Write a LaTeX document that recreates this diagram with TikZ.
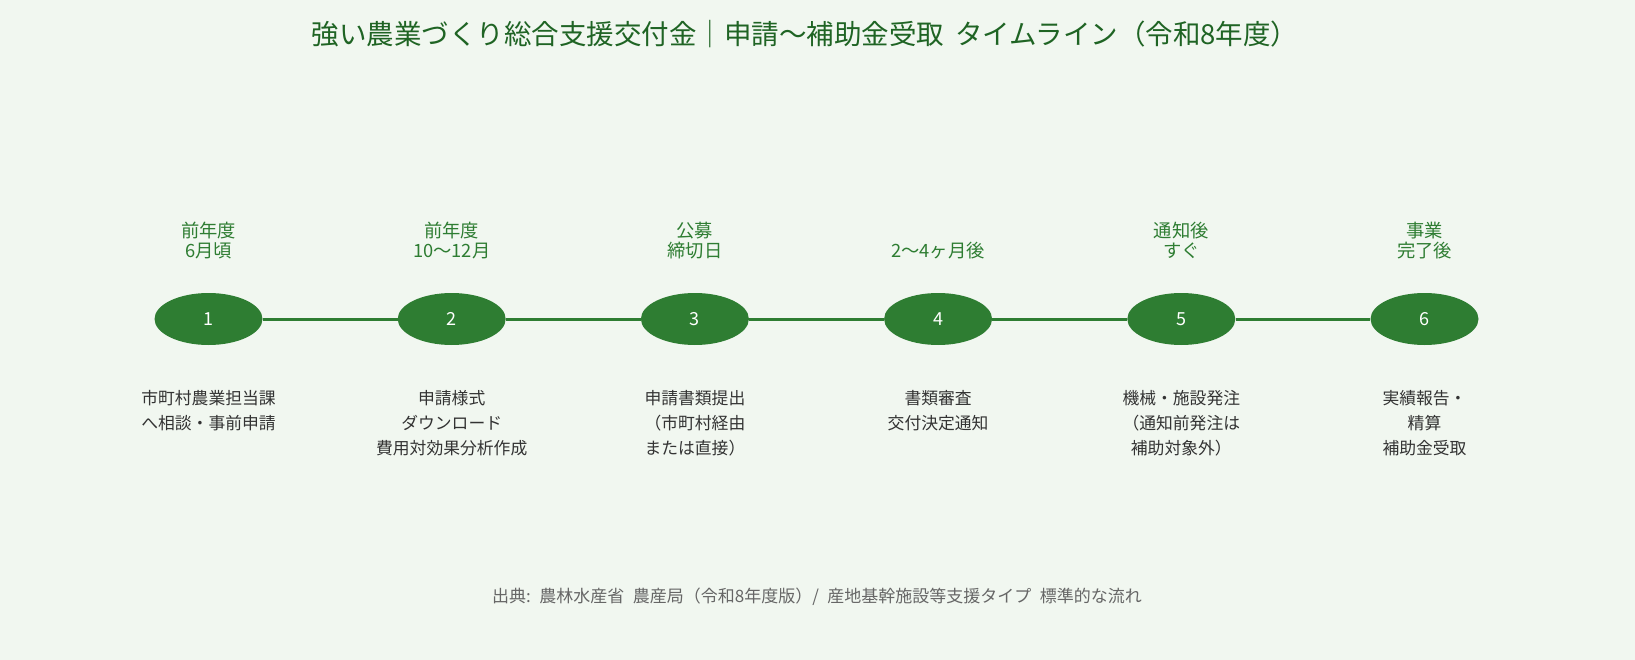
\documentclass[tikz,border=0pt]{standalone}
\usepackage{fontspec}
\setmainfont{Noto Sans CJK JP}
\usetikzlibrary{shapes.geometric}
\definecolor{bgcol}{HTML}{F1F7F0}
\definecolor{stagegreen}{HTML}{2E7D32}
\definecolor{titlegreen}{HTML}{1F6424}
\definecolor{textgray}{HTML}{333333}
\definecolor{notegray}{HTML}{666666}

\begin{document}
\begin{tikzpicture}[x=1pt, y=-1pt,
  stage/.style={ellipse, fill=stagegreen, minimum width=108pt, minimum height=52pt, inner sep=0pt, text=white, font=\fontsize{18}{20}\selectfont},
  when/.style={anchor=south, align=center, inner sep=0pt, text=stagegreen, font=\fontsize{18.3}{20}\selectfont},
  what/.style={anchor=north, align=center, inner sep=0pt, text=textgray, font=\fontsize{16.8}{25}\selectfont},
  link/.style={stagegreen, line width=3pt}]
  \fill[bgcol] (0,0) rectangle (1635,660);
  \useasboundingbox (0,0) rectangle (1635,660);

  \node[text=titlegreen, font=\fontsize{27.5}{30}\selectfont] (title) at (805,34) {強い農業づくり総合支援交付金｜申請〜補助金受取\hspace{0.4em}タイムライン（令和8年度）};

  \node[stage] (s1) at (208.5,319) {1};
  \node[stage] (s2) at (451.7,319) {2};
  \node[stage] (s3) at (694.9,319) {3};
  \node[stage] (s4) at (938.1,319) {4};
  \node[stage] (s5) at (1181.3,319) {5};
  \node[stage] (s6) at (1424.5,319) {6};
  \draw[link] (s1) -- (s2);
  \draw[link] (s2) -- (s3);
  \draw[link] (s3) -- (s4);
  \draw[link] (s4) -- (s5);
  \draw[link] (s5) -- (s6);

  \node[when] (w1) at (208.5,259) {前年度\\6月頃};
  \node[when] (w2) at (451.7,259) {前年度\\10〜12月};
  \node[when] (w3) at (694.9,259) {公募\\締切日};
  \node[when] (w4) at (938.1,259) {2〜4ヶ月後};
  \node[when] (w5) at (1181.3,259) {通知後\\すぐ};
  \node[when] (w6) at (1424.5,259) {事業\\完了後};

  \node[what] (d1) at (208.5,390) {市町村農業担当課\\へ相談・事前申請};
  \node[what] (d2) at (451.7,390) {申請様式\\ダウンロード\\費用対効果分析作成};
  \node[what] (d3) at (694.9,390) {申請書類提出\\（市町村経由\\または直接）};
  \node[what] (d4) at (938.1,390) {書類審査\\交付決定通知};
  \node[what] (d5) at (1181.3,390) {機械・施設発注\\（通知前発注は\\補助対象外）};
  \node[what] (d6) at (1424.5,390) {実績報告・\\精算\\補助金受取};

  \node[text=notegray, font=\fontsize{17}{19}\selectfont] (source) at (817,597) {出典:\hspace{0.5em}農林水産省\hspace{0.5em}農産局（令和8年度版）/\hspace{0.5em}産地基幹施設等支援タイプ\hspace{0.5em}標準的な流れ};
\end{tikzpicture}
\end{document}
